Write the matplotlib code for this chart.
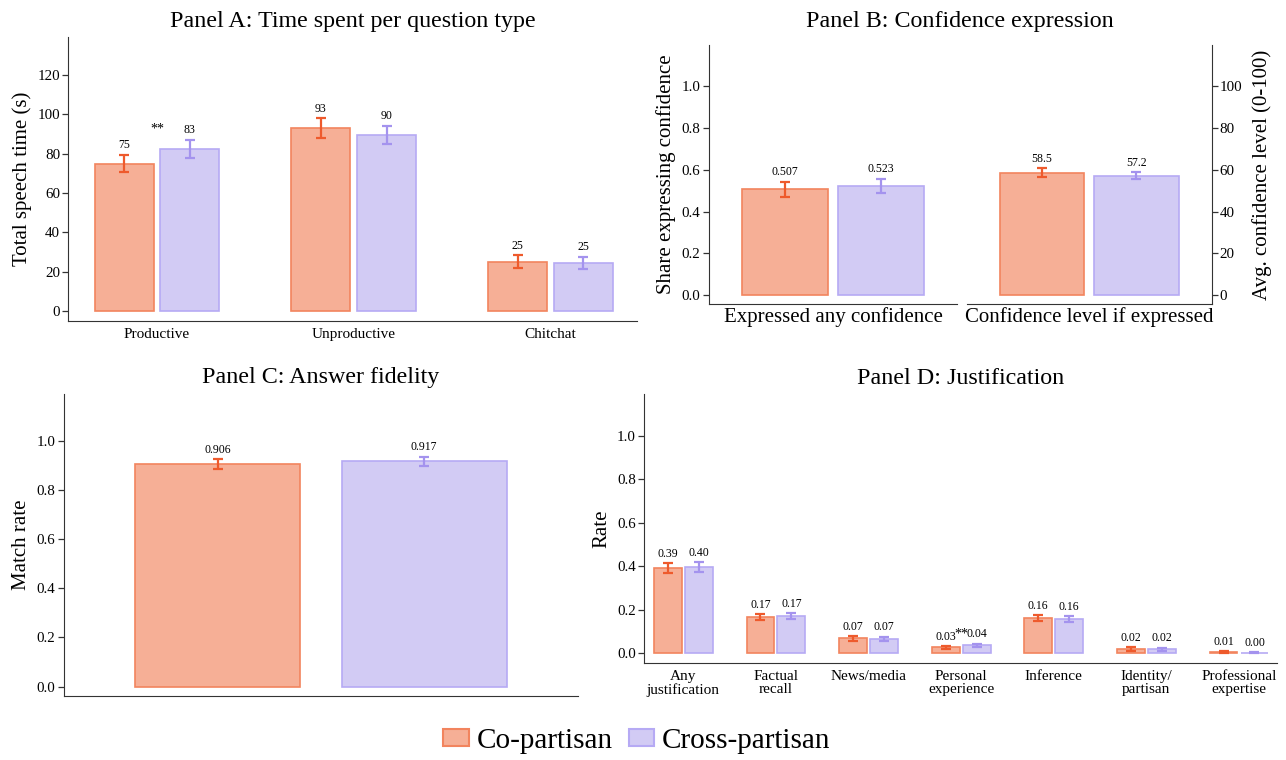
"""Four-panel bar chart: co-partisan vs cross-partisan conversation measures."""

import matplotlib

matplotlib.use("Agg")
import matplotlib.pyplot as plt
from matplotlib.patches import Patch

plt.rcParams["font.family"] = ["Liberation Serif", "DejaVu Serif"]

# Panel A: time spent per question type (seconds)
time_categories = ["Productive", "Unproductive", "Chitchat"]
time_co = [75.0, 93.1, 25.1]
time_co_err = [4.5, 5.0, 3.2]
time_cross = [82.6, 89.6, 24.6]
time_cross_err = [4.6, 4.7, 3.1]
time_sig = [0]  # groups marked "**"

# Panel B: confidence expression
conf_share_co, conf_share_co_err = 0.507, 0.035
conf_share_cross, conf_share_cross_err = 0.523, 0.033
conf_level_co, conf_level_co_err = 58.5, 2.1
conf_level_cross, conf_level_cross_err = 57.2, 1.6

# Panel C: answer fidelity
match_co, match_co_err = 0.906, 0.019
match_cross, match_cross_err = 0.917, 0.018

# Panel D: justification types
just_categories = ["Any\njustification", "Factual\nrecall", "News/media",
                   "Personal\nexperience", "Inference", "Identity/\npartisan",
                   "Professional\nexpertise"]
just_co = [0.391, 0.166, 0.069, 0.027, 0.161, 0.020, 0.006]
just_co_err = [0.023, 0.014, 0.010, 0.006, 0.014, 0.007, 0.004]
just_cross = [0.397, 0.171, 0.066, 0.038, 0.157, 0.018, 0.003]
just_cross_err = [0.021, 0.013, 0.010, 0.007, 0.014, 0.007, 0.003]
just_sig = [3]

CO_FILL, CO_EDGE, CO_ERR = "#F6AF96", "#F2845E", "#EE5A2C"
CR_FILL, CR_EDGE, CR_ERR = "#D2CBF4", "#B6AAF4", "#A493EE"
SPINE = "#333333"


def style_axis(ax, left=True, right=False):
    for side in ["top", "right", "left"]:
        ax.spines[side].set_visible(False)
    ax.spines["bottom"].set_color(SPINE)
    if left:
        ax.spines["left"].set_visible(True)
        ax.spines["left"].set_color(SPINE)
    if right:
        ax.spines["right"].set_visible(True)
        ax.spines["right"].set_color(SPINE)
    ax.tick_params(axis="y", length=4, width=0.9, color=SPINE, labelsize=10.8, pad=2)
    ax.tick_params(axis="x", length=0, labelsize=11, pad=5)


def draw_bar(ax, x, value, err, width, fill, edge, errc, fmt):
    ax.bar(x, value, width=width, color=fill, edgecolor=edge, linewidth=1.2)
    ax.errorbar(x, value, yerr=err, fmt="none", ecolor=errc, elinewidth=1.6,
                capsize=3.8, capthick=1.6)
    ax.annotate(fmt.format(value), (x, value + err), xytext=(0, 2.5),
                textcoords="offset points", ha="center", va="bottom", fontsize=8.5)


def grouped(ax, co, co_err, cross, cross_err, width, offset, fmt, sig):
    for i in range(len(co)):
        draw_bar(ax, i - offset, co[i], co_err[i], width, CO_FILL, CO_EDGE, CO_ERR, fmt)
        draw_bar(ax, i + offset, cross[i], cross_err[i], width, CR_FILL, CR_EDGE, CR_ERR, fmt)
        if i in sig:
            top = max(co[i] + co_err[i], cross[i] + cross_err[i])
            ax.annotate("**", (i, top), xytext=(0, 2.5), textcoords="offset points",
                        ha="center", va="bottom", fontsize=10)


fig = plt.figure(figsize=(12.86, 7.6), dpi=100)

# Panel A
axA = fig.add_axes([0.0532, 0.578, 0.4421, 0.3733])
grouped(axA, time_co, time_co_err, time_cross, time_cross_err, 0.3, 0.167, "{:.0f}", time_sig)
axA.set_xlim(-0.45, 2.44)
axA.set_ylim(-4.9, 139.3)
axA.set_yticks(range(0, 121, 20))
axA.set_xticks(range(len(time_categories)))
axA.set_xticklabels(time_categories)
axA.set_ylabel("Total speech time (s)", fontsize=15, labelpad=4)
style_axis(axA)
fig.text(0.274, 1 - 22 / 760, "Panel A: Time spent per question type",
         ha="center", va="center", fontsize=17.3)

# Panel B: two side-by-side axes, left share, right level
axB1 = fig.add_axes([0.5512, 0.6, 0.1932, 0.3408])
draw_bar(axB1, -0.193, conf_share_co, conf_share_co_err, 0.348, CO_FILL, CO_EDGE, CO_ERR, "{:.3f}")
draw_bar(axB1, 0.193, conf_share_cross, conf_share_cross_err, 0.348, CR_FILL, CR_EDGE, CR_ERR, "{:.3f}")
axB1.set_xlim(-0.5, 0.5)
axB1.set_ylim(-0.0416, 1.196)
axB1.set_yticks([0.0, 0.2, 0.4, 0.6, 0.8, 1.0])
axB1.set_xticks([])
axB1.set_xlabel("Expressed any confidence", fontsize=15, labelpad=2)
axB1.set_ylabel("Share expressing confidence", fontsize=15, labelpad=4)
style_axis(axB1)

axB2 = fig.add_axes([0.7517, 0.6, 0.1904, 0.3408])
draw_bar(axB2, -0.193, conf_level_co, conf_level_co_err, 0.345, CO_FILL, CO_EDGE, CO_ERR, "{:.1f}")
draw_bar(axB2, 0.193, conf_level_cross, conf_level_cross_err, 0.345, CR_FILL, CR_EDGE, CR_ERR, "{:.1f}")
axB2.set_xlim(-0.5, 0.5)
axB2.set_ylim(-4.2, 119.6)
axB2.set_yticks(range(0, 101, 20))
axB2.set_xticks([])
axB2.yaxis.tick_right()
axB2.yaxis.set_label_position("right")
axB2.set_xlabel("Confidence level if expressed", fontsize=15, labelpad=2)
axB2.set_ylabel("Avg. confidence level (0-100)", fontsize=15, labelpad=7)
style_axis(axB2, left=False, right=True)
fig.text(0.7467, 1 - 22 / 760, "Panel B: Confidence expression",
         ha="center", va="center", fontsize=17.3)

# Panel C
axC = fig.add_axes([0.0496, 0.0842, 0.3996, 0.3974])
draw_bar(axC, 0, match_co, match_co_err, 0.8, CO_FILL, CO_EDGE, CO_ERR, "{:.3f}")
draw_bar(axC, 1, match_cross, match_cross_err, 0.8, CR_FILL, CR_EDGE, CR_ERR, "{:.3f}")
axC.set_xlim(-0.747, 1.744)
axC.set_ylim(-0.038, 1.19)
axC.set_yticks([0.0, 0.2, 0.4, 0.6, 0.8, 1.0])
axC.set_xticks([])
axC.set_ylabel("Match rate", fontsize=15, labelpad=4)
style_axis(axC)
fig.text(0.2494, 1 - 378 / 760, "Panel C: Answer fidelity",
         ha="center", va="center", fontsize=17.3)

# Panel D
axD = fig.add_axes([0.501, 0.1272, 0.492, 0.3543])
grouped(axD, just_co, just_co_err, just_cross, just_cross_err, 0.3, 0.167, "{:.2f}", just_sig)
axD.set_xlim(-0.421, 6.41)
axD.set_ylim(-0.046, 1.193)
axD.set_yticks([0.0, 0.2, 0.4, 0.6, 0.8, 1.0])
axD.set_xticks(range(len(just_categories)))
axD.set_xticklabels(just_categories, linespacing=1.0)
axD.set_ylabel("Rate", fontsize=15, labelpad=4)
style_axis(axD)
fig.text(0.7469, 1 - 378 / 760, "Panel D: Justification",
         ha="center", va="center", fontsize=17.3)

handles = [Patch(facecolor=CO_FILL, edgecolor=CO_EDGE, linewidth=1.5, label="Co-partisan"),
           Patch(facecolor=CR_FILL, edgecolor=CR_EDGE, linewidth=1.5, label="Cross-partisan")]
fig.legend(handles=handles, loc="center", bbox_to_anchor=(637 / 1286, 1 - 741 / 760),
           ncol=2, frameon=False, fontsize=21, handlelength=0.86, handleheight=0.55,
           handletextpad=0.28, columnspacing=0.55)

fig.savefig("out.png", dpi=100)
